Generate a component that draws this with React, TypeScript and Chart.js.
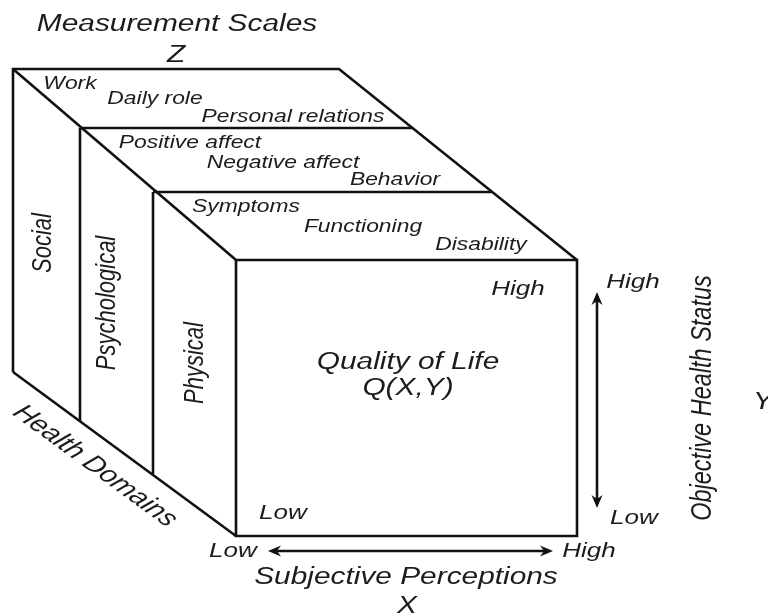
import React, { useEffect, useRef } from 'react';
import { Chart, registerables } from 'chart.js';

Chart.register(...registerables);

// ---- content ----
const domains = ['Social', 'Psychological', 'Physical'];
const socialScales = ['Work', 'Daily role', 'Personal relations'];
const psychScales = ['Positive affect', 'Negative affect', 'Behavior'];
const physScales = ['Symptoms', 'Functioning', 'Disability'];
const levelLabels = ['Low', 'High'];
const axisTitles = ['Measurement Scales', 'Subjective Perceptions', 'Objective Health Status', 'Health Domains'];
const axisLetters = ['Z', 'X', 'Y'];
const centerTitle = ['Quality of Life', 'Q(X,Y)'];

// ---- diagram geometry (data units on the linear x / y scales) ----
const outerEdge = [[13, 372], [13, 69], [339, 69], [577, 260]];
const mainDiagonal = [[13, 69], [236, 260]];
const bottomDiagonal = [[13, 372], [236, 536]];
const psychTop = [[80, 128], [412, 128]];
const physTop = [[153, 192], [492, 192]];
const psychSide = [[80, 128], [80, 421]];
const physSide = [[153, 192], [153, 474]];
const frontFace = [[236, 260], [577, 260], [577, 536], [236, 536], [236, 260]];
const xArrow = [[268, 551], [553, 551]];
const yArrow = [[597, 292], [597, 508]];

const polylines = [outerEdge, mainDiagonal, bottomDiagonal, psychTop, physTop, psychSide, physSide, frontFace];

const SX = 1.27; // horizontal stretch of the lettering
const FONT = '"Liberation Sans", Arial, sans-serif';
const INK = '#1c1c1c';

type Label = { t: string; x: number; y: number; s: number; a?: number };
const labels: Label[] = [
  { t: axisTitles[0], x: 177, y: 24, s: 23.5 },
  { t: axisLetters[0], x: 176, y: 55, s: 23.5 },
  { t: socialScales[0], x: 70, y: 84, s: 18 },
  { t: socialScales[1], x: 155, y: 99, s: 18 },
  { t: socialScales[2], x: 293, y: 117, s: 18 },
  { t: psychScales[0], x: 190, y: 143, s: 18 },
  { t: psychScales[1], x: 283, y: 163, s: 18 },
  { t: psychScales[2], x: 395, y: 180, s: 18 },
  { t: physScales[0], x: 246, y: 207, s: 18 },
  { t: physScales[1], x: 363, y: 227, s: 18 },
  { t: physScales[2], x: 481, y: 245, s: 18 },
  { t: levelLabels[1], x: 518, y: 289, s: 20.5 },
  { t: centerTitle[0], x: 408, y: 362, s: 23.5 },
  { t: centerTitle[1], x: 408, y: 388, s: 23.5 },
  { t: levelLabels[0], x: 283, y: 513, s: 20.5 },
  { t: levelLabels[0], x: 233, y: 551, s: 20.5 },
  { t: levelLabels[1], x: 589, y: 551, s: 20.5 },
  { t: axisTitles[1], x: 406, y: 577, s: 23.5 },
  { t: axisLetters[1], x: 407, y: 606, s: 23.5 },
  { t: levelLabels[1], x: 633, y: 282, s: 20.5 },
  { t: levelLabels[0], x: 634, y: 518, s: 20.5 },
  { t: axisTitles[2], x: 703, y: 398, s: 23.5, a: -Math.PI / 2 },
  { t: axisLetters[2], x: 763, y: 402, s: 23.5 },
  { t: domains[0], x: 43, y: 243, s: 22, a: -Math.PI / 2 },
  { t: domains[1], x: 107, y: 303, s: 22, a: -Math.PI / 2 },
  { t: domains[2], x: 195, y: 363, s: 22, a: -Math.PI / 2 },
  { t: axisTitles[3], x: 95, y: 466, s: 23.5, a: Math.atan(0.731 * SX) },
];

const diagramPlugin = {
  id: 'diagram',
  afterDatasetsDraw(chart: any) {
    const ctx: CanvasRenderingContext2D = chart.ctx;
    const xs = chart.scales.x;
    const ys = chart.scales.y;
    const px = (v: number) => xs.getPixelForValue(v);
    const py = (v: number) => ys.getPixelForValue(v);

    const drawArrow = (pts: number[][]) => {
      const x1 = px(pts[0][0]), y1 = py(pts[0][1]);
      const x2 = px(pts[1][0]), y2 = py(pts[1][1]);
      const len = Math.hypot(x2 - x1, y2 - y1);
      const dx = (x2 - x1) / len, dy = (y2 - y1) / len;
      const nx = -dy, ny = dx;
      const L = 13, W = 5.5, notch = 9;
      ctx.save();
      ctx.strokeStyle = '#111';
      ctx.lineWidth = 2.6;
      ctx.beginPath();
      ctx.moveTo(x1 + dx * notch, y1 + dy * notch);
      ctx.lineTo(x2 - dx * notch, y2 - dy * notch);
      ctx.stroke();
      ctx.fillStyle = '#111';
      const head = (tx: number, ty: number, ux: number, uy: number) => {
        ctx.beginPath();
        ctx.moveTo(tx, ty);
        ctx.lineTo(tx - ux * L + nx * W, ty - uy * L + ny * W);
        ctx.lineTo(tx - ux * notch, ty - uy * notch);
        ctx.lineTo(tx - ux * L - nx * W, ty - uy * L - ny * W);
        ctx.closePath();
        ctx.fill();
      };
      head(x2, y2, dx, dy);
      head(x1, y1, -dx, -dy);
      ctx.restore();
    };
    drawArrow(xArrow);
    drawArrow(yArrow);

    ctx.save();
    ctx.fillStyle = INK;
    ctx.textAlign = 'center';
    ctx.textBaseline = 'middle';
    for (const l of labels) {
      ctx.save();
      ctx.translate(px(l.x), py(l.y));
      ctx.scale(SX, 1);
      if (l.a) ctx.rotate(l.a);
      ctx.font = `italic ${l.s}px ${FONT}`;
      ctx.fillText(l.t, 0, 0);
      ctx.restore();
    }
    ctx.restore();
  },
};

export default function App() {
  const ref = useRef<HTMLCanvasElement | null>(null);
  useEffect(() => {
    if (!ref.current) return;
    const chart = new Chart(ref.current, {
      type: 'scatter',
      data: {
        datasets: polylines.map((pl) => ({
          data: pl.map(([x, y]) => ({ x, y })),
          showLine: true,
          borderColor: '#111',
          borderWidth: 2.6,
          pointRadius: 0,
          fill: false,
          tension: 0,
          borderJoinStyle: 'miter' as const,
          clip: false as any,
        })),
      },
      options: {
        animation: false,
        responsive: false,
        devicePixelRatio: 1,
        layout: { padding: 0 },
        plugins: { legend: { display: false }, tooltip: { enabled: false } },
        scales: {
          x: { type: 'linear', min: 0, max: 768, display: false },
          y: { type: 'linear', min: 0, max: 614, reverse: true, display: false },
        },
      },
      plugins: [diagramPlugin],
    });
    return () => chart.destroy();
  }, []);
  return (
    <div style={{ position: 'absolute', left: 0, top: 0, width: 768, height: 614, background: '#fff' }}>
      <canvas ref={ref} width={768} height={614} style={{ display: 'block' }} />
    </div>
  );
}
